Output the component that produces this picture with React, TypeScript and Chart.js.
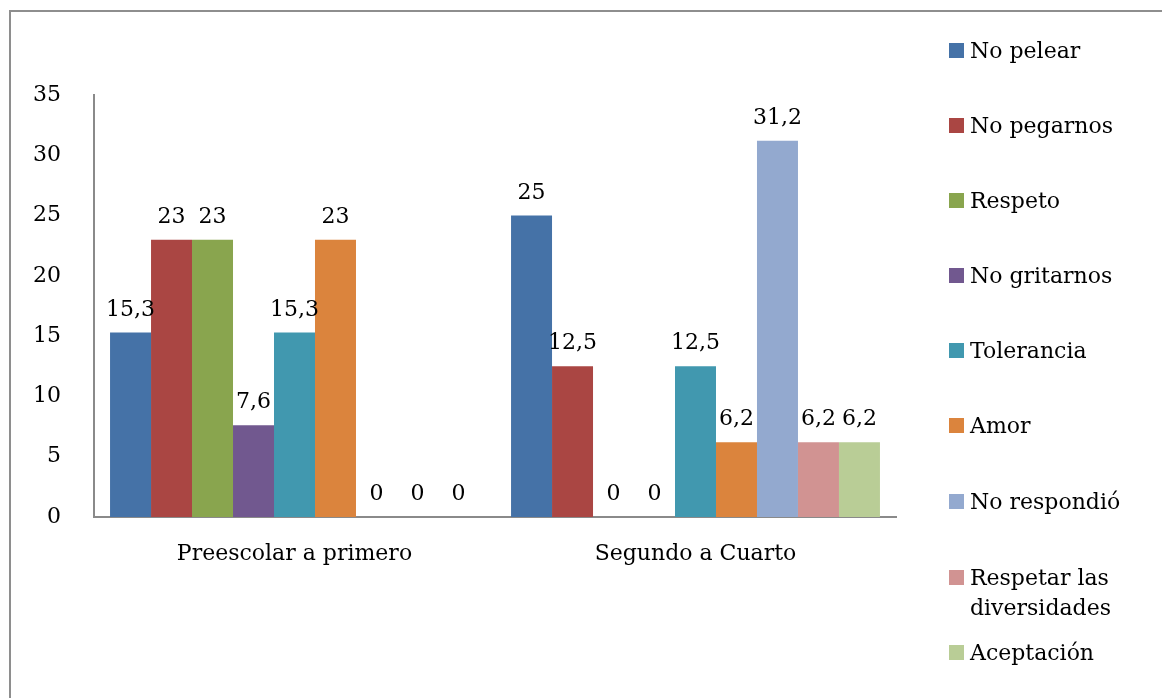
import React, { useEffect, useRef } from "react";
import { Chart, registerables } from "chart.js";

Chart.register(...registerables);

const categories = ["Preescolar a primero", "Segundo a Cuarto"];
const seriesNames = [
  "No pelear",
  "No pegarnos",
  "Respeto",
  "No gritarnos",
  "Tolerancia",
  "Amor",
  "No respondió",
  "Respetar las diversidades",
  "Aceptación",
];
const noPelear = [15.3, 25];
const noPegarnos = [23, 12.5];
const respeto = [23, 0];
const noGritarnos = [7.6, 0];
const tolerancia = [15.3, 12.5];
const amor = [23, 6.2];
const noRespondio = [0, 31.2];
const respetarDiversidades = [0, 6.2];
const aceptacion = [0, 6.2];
const seriesValues = [
  noPelear,
  noPegarnos,
  respeto,
  noGritarnos,
  tolerancia,
  amor,
  noRespondio,
  respetarDiversidades,
  aceptacion,
];
const yMin = 0;
const yMax = 35;
const yStep = 5;

const colors = [
  "#4572A7",
  "#AA4643",
  "#89A54E",
  "#71588F",
  "#4198AF",
  "#DB843D",
  "#93A9CF",
  "#D19392",
  "#B9CD96",
];

const FONT = "'DejaVu Serif', serif";
const AXIS_COLOR = "#8a8a8a";
const legendCenters = [50.5, 125.5, 200.5, 275.5, 350.5, 425.5, 501.5, 577.5, 652.5];

const fmt = (v: number) => String(v).replace(".", ",");

const valueLabels = {
  id: "valueLabels",
  afterDatasetsDraw(chart: any) {
    const ctx = chart.ctx;
    ctx.save();
    ctx.font = `22px ${FONT}`;
    ctx.fillStyle = "#000";
    ctx.textAlign = "center";
    ctx.textBaseline = "alphabetic";
    chart.data.datasets.forEach((ds: any, di: number) => {
      const meta = chart.getDatasetMeta(di);
      meta.data.forEach((el: any, i: number) => {
        const v = ds.data[i];
        ctx.fillText(fmt(v), el.x, el.y - 17);
      });
    });
    ctx.restore();
  },
};

export default function App() {
  const ref = useRef<HTMLCanvasElement | null>(null);

  useEffect(() => {
    if (!ref.current) return;
    const chart = new Chart(ref.current, {
      type: "bar",
      data: {
        labels: categories,
        datasets: seriesNames.map((name, i) => ({
          label: name,
          data: seriesValues[i],
          backgroundColor: colors[i],
          borderWidth: 0,
          categoryPercentage: 0.92,
          barPercentage: 1,
        })),
      },
      options: {
        animation: false,
        responsive: true,
        maintainAspectRatio: false,
        layout: { padding: { top: 95, right: 266, left: 0, bottom: 0 } },
        plugins: {
          legend: { display: false },
          tooltip: { enabled: false },
          title: { display: false },
        },
        scales: {
          x: {
            grid: { display: false },
            border: { display: true, color: AXIS_COLOR, width: 2 },
            ticks: {
              color: "#000",
              font: { family: FONT, size: 22 },
              padding: 16,
            },
            afterFit: (s: any) => {
              s.height = 181;
            },
          },
          y: {
            min: yMin,
            max: yMax,
            grid: { display: false },
            border: { display: true, color: AXIS_COLOR, width: 2 },
            ticks: {
              stepSize: yStep,
              color: "#000",
              font: { family: FONT, size: 22 },
              padding: 25,
            },
            afterFit: (s: any) => {
              s.width = 94;
            },
          },
        },
      },
      plugins: [valueLabels],
    });
    return () => chart.destroy();
  }, []);

  return (
    <div
      style={{
        position: "absolute",
        left: 0,
        top: 0,
        width: 1162,
        height: 698,
        overflow: "hidden",
        background: "#fff",
        fontFamily: FONT,
      }}
    >
      <div
        style={{
          position: "absolute",
          left: 9,
          top: 10,
          width: 1200,
          height: 760,
          border: "2px solid #8e8e8e",
          boxSizing: "border-box",
        }}
      />
      <div style={{ position: "absolute", left: 0, top: 0, width: 1162, height: 698 }}>
        <canvas ref={ref} />
      </div>
      {seriesNames.map((name, i) => (
        <React.Fragment key={name}>
          <div
            style={{
              position: "absolute",
              left: 949,
              top: legendCenters[i] - 7.5,
              width: 15,
              height: 15,
              background: colors[i],
            }}
          />
          <div
            style={{
              position: "absolute",
              left: 970,
              top: legendCenters[i] - 14.5,
              width: 175,
              fontSize: 22,
              lineHeight: "30px",
              color: "#000",
              whiteSpace: "normal",
            }}
          >
            {name}
          </div>
        </React.Fragment>
      ))}
    </div>
  );
}
